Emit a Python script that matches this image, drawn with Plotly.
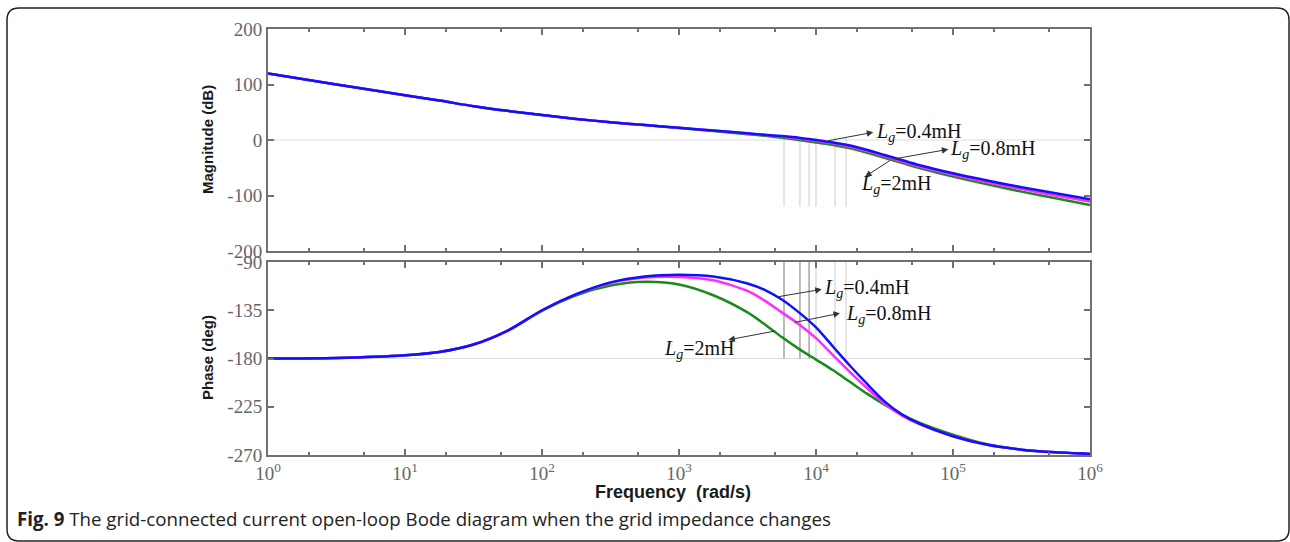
import plotly.graph_objects as go

# ---------------- data ----------------
freq = [1, 3.162, 10, 17.78, 31.62, 56.23, 100, 177.8, 316.2, 562.3, 1000,
        1778, 3162, 4217, 5623, 7499, 10000, 13335, 17783, 23714, 31623,
        42170, 56234, 100000, 177828, 316228, 562341, 1000000]

mag_04 = [120, 100, 80.5, 71, 61, 52.5, 45, 38, 32, 27, 22,
          17, 12, 9.5, 7, 4, 0, -4.5, -10, -18, -27,
          -36, -45, -60, -73, -85, -96, -107]
mag_08 = [120, 100, 80.5, 71, 61, 52.5, 45, 38, 32, 27, 22,
          17, 11.5, 9, 6, 2.5, -1.5, -6, -12, -20, -29,
          -38.5, -47.5, -62.5, -76, -88.5, -100, -111]
mag_2 = [120, 100, 80.5, 71, 61, 52.5, 45, 38, 32, 27, 21.5,
         16, 10.5, 7.5, 4, 0, -4.5, -9, -15, -23, -32,
         -41, -50, -66, -80, -93, -105, -117]

ph_04 = [-180, -179.5, -177, -174, -167, -154, -135, -120, -109, -103.5, -102,
         -103.5, -110, -116, -125, -137, -151, -169, -187, -204, -220,
         -232, -240.5, -252.5, -260.5, -265, -267.5, -269]
ph_08 = [-180, -179.5, -177, -174, -167, -154, -135, -120, -109.5, -104.5, -104,
         -107, -117, -126, -137, -148, -161, -177, -193, -208, -222,
         -233, -241, -252.5, -260.5, -265, -267.5, -269]
ph_2 = [-180, -179.5, -177, -174, -167, -154, -135.5, -121, -112, -108.5, -111,
        -121, -137, -148, -160, -171, -181, -191, -202, -213, -223,
        -232, -239.5, -251, -260, -265, -267.5, -269]

series_names = ["Lg=2mH", "Lg=0.8mH", "Lg=0.4mH"]
series_colors = ["#1a8a1a", "#ff2bff", "#1010ff"]

# margin marker frequencies (thin vertical reference lines)
marker_freqs = [5840, 7640, 8900, 10000, 13770, 16560]
marker_mag_top = [5, 5, 5, 5, 5, 5]
marker_mag_bot = [-120, -120, -120, -120, -120, -120]
marker_phase_top = [-90, -90, -90, -90, -90, -90]
marker_phase_bot = [-180, -180, -180, -180, -180, -180]
marker_colors_top = ["#cccccc"] * 6
marker_colors_bot = ["#777777", "#777777", "#777777", "#cccccc", "#cccccc", "#cccccc"]

x_tickvals = [1, 10, 100, 1000, 10000, 100000, 1000000]
x_ticktext = ["10<sup>%d</sup>" % i for i in range(7)]
mag_ticks = [-200, -100, 0, 100, 200]
mag_ticktext = ["-200", "-100", "0", "100", "200"]
ph_ticks = [-270, -225, -180, -135, -90]
ph_ticktext = ["-270", "-225", "-180", "-135", "-90"]

caption_bold = "Fig. 9"
caption_text = " The grid-connected current open-loop Bode diagram when the grid impedance changes"

# ---------------- layout helpers ----------------
W, H = 1290, 542
L, R, T, B = 268, 200, 29, 87
PW, PH = W - L - R, H - T - B


def px(x):
    return (x - L) / PW


def py(y):
    return (H - B - y) / PH


fig = go.Figure()

# vertical reference lines
for f, a, b, c in zip(marker_freqs, marker_mag_top, marker_mag_bot, marker_colors_top):
    fig.add_trace(go.Scatter(x=[f, f], y=[a, b], mode="lines", xaxis="x", yaxis="y",
                             line=dict(color=c, width=1), showlegend=False, hoverinfo="skip"))
for f, a, b, c in zip(marker_freqs, marker_phase_top, marker_phase_bot, marker_colors_bot):
    fig.add_trace(go.Scatter(x=[f, f], y=[a, b], mode="lines", xaxis="x2", yaxis="y2",
                             line=dict(color=c, width=1), showlegend=False, hoverinfo="skip"))

for name, col, m, p in zip(series_names, series_colors, [mag_2, mag_08, mag_04], [ph_2, ph_08, ph_04]):
    fig.add_trace(go.Scatter(x=freq, y=m, mode="lines", name=name, xaxis="x", yaxis="y",
                             line=dict(color=col, width=2.5, shape="spline", smoothing=0.8),
                             showlegend=False))
    fig.add_trace(go.Scatter(x=freq, y=p, mode="lines", name=name, xaxis="x2", yaxis="y2",
                             line=dict(color=col, width=2.5, shape="spline", smoothing=0.8),
                             showlegend=False))

axcol = "#707070"
tickfont = dict(family="Liberation Serif, Times New Roman, serif", size=19, color="#666666")
common_x = dict(type="log", range=[0, 6], showline=True, linecolor=axcol, linewidth=2,
                mirror="ticks", ticks="inside", ticklen=6, tickwidth=1.5, tickcolor=axcol,
                tickvals=x_tickvals, ticktext=x_ticktext, showgrid=False, zeroline=False,
                minor=dict(ticks="inside", ticklen=3, tickwidth=1.5, tickcolor=axcol,
                           showgrid=False),
                tickfont=tickfont)
common_y = dict(showline=True, linecolor=axcol, linewidth=2, mirror="ticks", ticks="inside",
                ticklen=6, tickwidth=1.5, tickcolor=axcol, showgrid=False, zeroline=False,
                tickfont=tickfont)

fig.update_layout(
    width=W, height=H,
    margin=dict(l=L, r=R, t=T, b=B),
    paper_bgcolor="white", plot_bgcolor="white",
    xaxis=dict(common_x, domain=[0, 1], anchor="y", showticklabels=False),
    yaxis=dict(common_y, domain=[py(251), 1], range=[-200, 200], tickvals=mag_ticks,
               ticktext=mag_ticktext, anchor="x"),
    xaxis2=dict(common_x, domain=[0, 1], anchor="y2", showticklabels=True),
    yaxis2=dict(common_y, domain=[0, py(262)], range=[-270, -90], tickvals=ph_ticks,
                ticktext=ph_ticktext, anchor="x2"),
)

# light horizontal reference lines at 0 dB and -180 deg
fig.add_shape(type="line", xref="x domain", yref="y", x0=0, x1=1, y0=0, y1=0,
              line=dict(color="#dddddd", width=1), layer="below")
fig.add_shape(type="line", xref="x2 domain", yref="y2", x0=0, x1=1, y0=-180, y1=-180,
              line=dict(color="#dddddd", width=1), layer="below")

# annotations (x in log10 units for log axes)
lbl_font = dict(family="Liberation Serif, Times New Roman, serif", size=20, color="#111111")
arrow_specs = [
    # xref, yref, head(x_log, y), tail(x_log, y)
    ("x", "y", 4.418, 13.9, 4.078, -1.8),
    ("x", "y", 4.966, -16.8, 4.553, -34.8),
    ("x", "y", 4.358, -66.1, 4.553, -34.8),
    ("x2", "y2", 4.042, -115.5, 3.701, -122.9),
    ("x2", "y2", 4.175, -137.8, 3.834, -146.6),
    ("x2", "y2", 3.360, -162.6, 3.713, -154.1),
]
for xr, yr, hx, hy, tx, ty in arrow_specs:
    fig.add_annotation(xref=xr, yref=yr, axref=xr, ayref=yr, x=hx, y=hy, ax=tx, ay=ty,
                       text="", showarrow=True, arrowhead=2, arrowsize=1.3, arrowwidth=1,
                       arrowcolor="#333333", standoff=0, startstandoff=0)

label_specs = [
    ("x", "y", 4.43, 13.5, "0.4mH"),
    ("x", "y", 4.97, -17, "0.8mH"),
    ("x", "y", 4.32, -81, "2mH"),
    ("x2", "y2", 4.05, -115, "0.4mH"),
    ("x2", "y2", 4.21, -138.6, "0.8mH"),
    ("x2", "y2", 2.88, -171.4, "2mH"),
]
for xr, yr, lx, ly, val in label_specs:
    fig.add_annotation(xref=xr, yref=yr, x=lx, y=ly, xanchor="left", yanchor="middle",
                       text="<i>L</i><sub><i>g</i></sub>=" + val, showarrow=False,
                       font=lbl_font, borderpad=0)

title_font = dict(family="Liberation Sans, Arial, sans-serif", size=15, color="#1a1a1a")
fig.add_annotation(xref="paper", yref="paper", x=px(207), y=py(140), text="<b>Magnitude (dB)</b>",
                   textangle=-90, showarrow=False, font=title_font,
                   xanchor="center", yanchor="middle")
fig.add_annotation(xref="paper", yref="paper", x=px(207), y=py(358), text="<b>Phase (deg)</b>",
                   textangle=-90, showarrow=False, font=title_font,
                   xanchor="center", yanchor="middle")
fig.add_annotation(xref="paper", yref="paper", x=px(673), y=py(492),
                   text="<b>Frequency&nbsp;&nbsp;(rad/s)</b>", showarrow=False,
                   font=dict(title_font, size=18), xanchor="center", yanchor="middle")

# caption
fig.add_annotation(xref="paper", yref="paper", x=px(15), y=py(518), xanchor="left",
                   yanchor="middle", showarrow=False,
                   text="<b>" + caption_bold + "</b>" + caption_text,
                   font=dict(family="Open Sans, Noto Sans, sans-serif", size=18.7, color="#222222"))

# rounded figure frame
x0, x1, y0, y1, r = 7, 1289, 8, 541, 12
path = ("M {a},{b} L {c},{b} Q {e},{b} {e},{f} L {e},{g} Q {e},{h} {c},{h} "
        "L {a},{h} Q {i},{h} {i},{g} L {i},{f} Q {i},{b} {a},{b} Z").format(
    a=px(x0 + r), b=py(y0), c=px(x1 - r), e=px(x1), f=py(y0 + r), g=py(y1 - r),
    h=py(y1), i=px(x0))
fig.add_shape(type="path", xref="paper", yref="paper", path=path,
              line=dict(color="#222222", width=1.5), layer="below")

fig.write_html("out.html")
